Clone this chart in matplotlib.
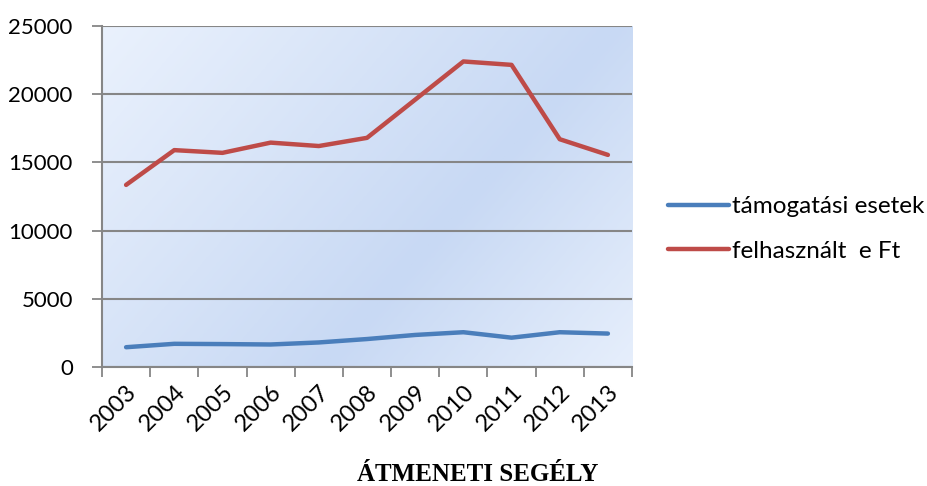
import matplotlib.pyplot as plt
import numpy as np
from matplotlib.colors import LinearSegmentedColormap

# adatok
years = ['2003', '2004', '2005', '2006', '2007', '2008', '2009', '2010', '2011', '2012', '2013']
tamogatasi_esetek = [1450, 1700, 1680, 1650, 1800, 2050, 2350, 2550, 2150, 2550, 2450]
felhasznalt_eft = [13350, 15900, 15700, 16450, 16200, 16800, 19600, 22400, 22150, 16700, 15550]

plt.rcParams['font.family'] = ['Lato', 'DejaVu Sans']

fig = plt.figure(figsize=(9.27, 4.86), dpi=100)
ax = fig.add_axes([102/927, 1 - 367/486, 530/927, 341/486])

x = np.arange(len(years))

# háttér színátmenet: bal fent világos, átlós sötétebb sáv, jobb lent világos
px, py = np.meshgrid(np.linspace(0, 529, 400), np.linspace(339, 0, 260))
d = ((px - 222) * 339 - py * 291) / 446.8
val = np.where(d < 0, 1 - np.abs(d) / 400, 1 - d / 270)
val = np.clip(val, 0, 1)
cmap = LinearSegmentedColormap.from_list('bg', ['#ebf2fd', '#c8d9f4'])
ax.imshow(val, cmap=cmap, extent=[-0.5, 10.5, 0, 25000], aspect='auto',
          origin='upper', zorder=0, vmin=0, vmax=1)

ax.plot(x, tamogatasi_esetek, color='#4a7ebb', lw=3.2, label='támogatási esetek',
        solid_capstyle='round', zorder=3)
ax.plot(x, felhasznalt_eft, color='#be4b48', lw=3.2, label='felhasznált  e Ft',
        solid_capstyle='round', zorder=3)

ax.set_xlim(-0.5, 10.5)
ax.set_ylim(0, 25000)
ax.set_yticks(np.arange(0, 25001, 5000))
ax.yaxis.grid(True, color='#868686', lw=1.5, zorder=1)
ax.set_axisbelow(False)

ax.set_xticks(x)
ax.set_xticklabels(years, rotation=45, ha='right', rotation_mode='anchor')
ax.set_xticks(np.arange(-0.5, 11, 1), minor=True)
ax.tick_params(axis='x', which='major', length=0, pad=10, labelsize=17)
ax.tick_params(axis='x', which='minor', length=7, width=1.3, color='#868686')
ax.tick_params(axis='y', length=7, width=1.3, color='#868686', pad=14, labelsize=16)

for side in ['top', 'right']:
    ax.spines[side].set_visible(False)
for side in ['left', 'bottom']:
    ax.spines[side].set_color('#868686')
    ax.spines[side].set_linewidth(1.5)

fig.legend(loc='center left', bbox_to_anchor=(668/927, 1 - 229/486), frameon=False,
           fontsize=17.5, handlelength=2.5, handletextpad=0.15, labelspacing=0.95,
           borderpad=0, borderaxespad=0)

fig.text(478/927, 1 - 474/486, 'ÁTMENETI SEGÉLY', ha='center', va='center',
         fontsize=18, fontweight='bold', family=['Liberation Serif'])

plt.savefig('out.png', dpi=100)
